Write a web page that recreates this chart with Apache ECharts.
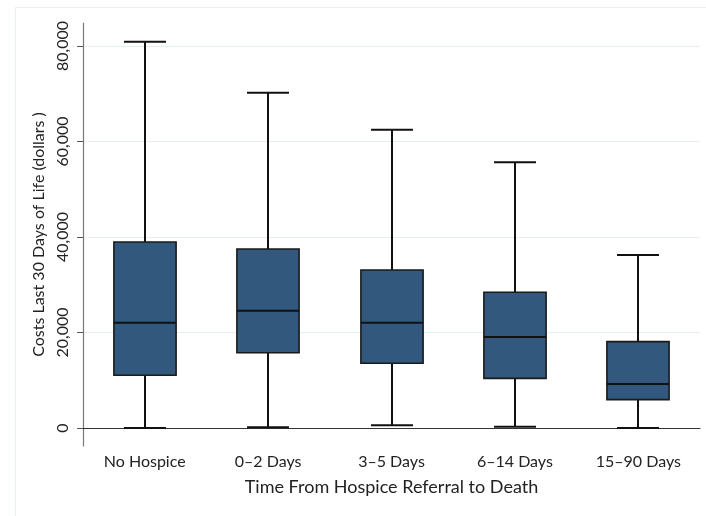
<!DOCTYPE html>
<html>
<head>
<meta charset="utf-8">
<script src="https://cdn.jsdelivr.net/npm/echarts@6/dist/echarts.min.js"></script>
<style>
  html, body { margin: 0; padding: 0; background: #fff; }
  #chart { width: 706px; height: 516px; }
</style>
</head>
<body>
<div id="chart"></div>
<script>
// Hospice referral groups
const categories = ['No Hospice', '0\u20132 Days', '3\u20135 Days', '6\u201314 Days', '15\u201390 Days'];

// Box-plot statistics (dollars)
const lowerWhisker = [0, 150, 570, 280, 0];
const quartile1 = [11040, 15770, 13550, 10400, 5930];
const medianCost = [22050, 24570, 22050, 19060, 9210];
const quartile3 = [38950, 37490, 33090, 28420, 18080];
const upperWhisker = [80900, 70220, 62470, 55640, 36230];

// Y axis tick values
const yTicks = [0, 20000, 40000, 60000, 80000];

const FONT = 'Lato';
const boxData = categories.map((c, i) => [i, lowerWhisker[i], quartile1[i], medianCost[i], quartile3[i], upperWhisker[i]]);

function renderBox(params, api) {
  const i = api.value(0);
  const band = api.size([1, 0])[0];
  const halfBox = band * 0.252;
  const halfCap = band * 0.17;
  const pLow = api.coord([i, api.value(1)]);
  const pQ1 = api.coord([i, api.value(2)]);
  const pMed = api.coord([i, api.value(3)]);
  const pQ3 = api.coord([i, api.value(4)]);
  const pHigh = api.coord([i, api.value(5)]);
  const cx = Math.round(pMed[0]);
  const lineStyle = { stroke: '#111', lineWidth: 2, fill: null };
  return {
    type: 'group',
    children: [
      { type: 'line', shape: { x1: cx, y1: pHigh[1], x2: cx, y2: pQ3[1] }, style: lineStyle },
      { type: 'line', shape: { x1: cx, y1: pQ1[1], x2: cx, y2: pLow[1] }, style: lineStyle },
      { type: 'line', shape: { x1: cx - halfCap, y1: pHigh[1], x2: cx + halfCap, y2: pHigh[1] }, style: lineStyle },
      { type: 'line', shape: { x1: cx - halfCap, y1: pLow[1], x2: cx + halfCap, y2: pLow[1] }, style: lineStyle },
      { type: 'rect', shape: { x: cx - halfBox, y: pQ3[1], width: halfBox * 2, height: pQ1[1] - pQ3[1] },
        style: { fill: '#32587d', stroke: '#1a1a1a', lineWidth: 1.6 } },
      { type: 'line', shape: { x1: cx - halfBox, y1: pMed[1], x2: cx + halfBox, y2: pMed[1] },
        style: { stroke: '#111', lineWidth: 2 } }
    ]
  };
}

const chart = echarts.init(document.getElementById('chart'), null, { renderer: 'canvas' });
chart.setOption({
  animation: false,
  backgroundColor: '#fff',
  graphic: [{
    type: 'rect', left: 13, top: 5, silent: true, z: -10,
    shape: { width: 700, height: 530 },
    style: { fill: null, stroke: '#e9eeee', lineWidth: 1.2 }
  }],
  grid: { left: 83, right: 6, top: 23, bottom: 70, containLabel: false },
  xAxis: {
    type: 'category',
    data: categories,
    boundaryGap: true,
    name: 'Time From Hospice Referral to Death',
    nameLocation: 'middle',
    nameGap: 32,
    nameTextStyle: { fontFamily: FONT, fontSize: 18, color: '#222' },
    axisLine: { lineStyle: { color: '#333', width: 1.2 } },
    axisTick: { show: false },
    axisLabel: { fontFamily: FONT, fontSize: 16, color: '#222', margin: 8 },
    splitLine: { show: false }
  },
  yAxis: {
    type: 'value',
    min: -3770,
    max: 84800,
    name: 'Costs Last 30 Days of Life (dollars )',
    nameLocation: 'middle',
    nameGap: 35,
    nameTextStyle: { fontFamily: FONT, fontSize: 16, color: '#222' },
    axisLine: { show: true, lineStyle: { color: '#777', width: 1.2 } },
    axisTick: { show: true, length: 6, customValues: yTicks, lineStyle: { color: '#555' } },
    axisLabel: {
      customValues: yTicks,
      rotate: 90,
      fontFamily: FONT, fontSize: 16, color: '#222', margin: 12,
      formatter: v => v.toLocaleString('en-US')
    },
    splitLine: { show: true, lineStyle: { color: '#e6eff2', width: 1.2 } }
  },
  series: [{
    type: 'custom',
    renderItem: renderBox,
    encode: { x: 0, y: [1, 2, 3, 4, 5] },
    data: boxData
  }]
});
</script>
</body>
</html>
